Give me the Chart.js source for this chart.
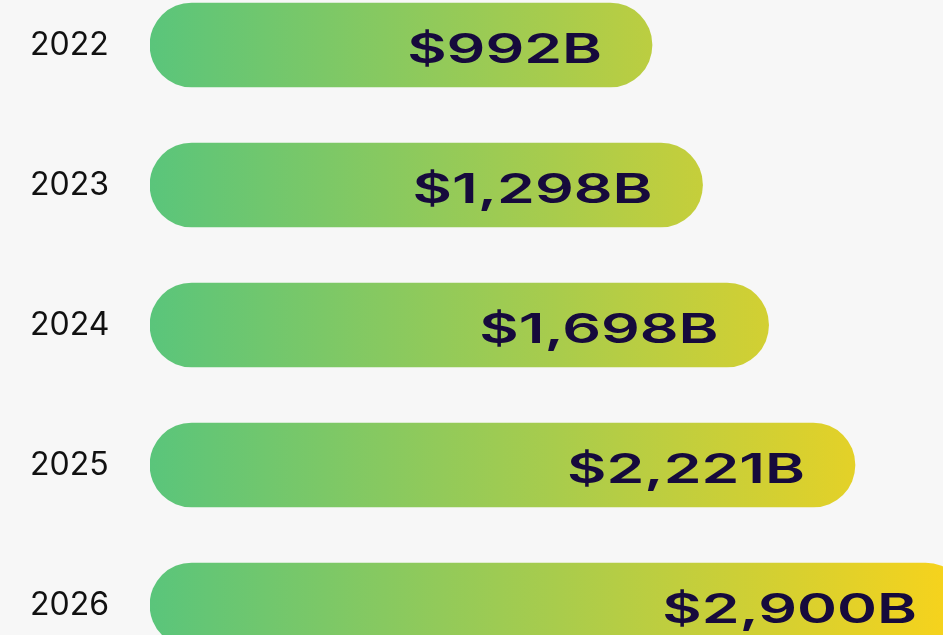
<!DOCTYPE html>
<html>
<head>
<meta charset="utf-8">
<script src="https://cdn.jsdelivr.net/npm/chart.js@4.4.1/dist/chart.umd.min.js"></script>
<style>
	html, body {
		margin: 0;
		padding: 0;
		background: #f7f7f7;
		overflow: hidden;
		width: 943px;
		height: 635px;
	}
	#wrap {
		position: absolute;
		left: 0;
		top: -25px;
		width: 943px;
		height: 700px;
	}
</style>
</head>
<body>
<div id="wrap"><canvas id="marketChart" width="943" height="700"></canvas></div>
<script>
// Market size per year, in billions of dollars
const years = ['2022', '2023', '2024', '2025', '2026'];
const marketSize = [992, 1298, 1698, 2221, 2900];

// Value axis range (the bars start at the axis minimum)
const xMin = -2048;
const xMax = 2754;

const green = '#5ac57b';
const lime = '#a9cc4c';
const yellow = '#fad31a';
const labelColor = '#160a3c';

function barGradient(context) {
	const chart = context.chart;
	const area = chart.chartArea;
	if(!area) {
		return green;
	}
	const xScale = chart.scales.x;
	const start = xScale.getPixelForValue(xMin);
	const end = xScale.getPixelForValue(Math.max(...marketSize));
	const gradient = chart.ctx.createLinearGradient(start, 0, end, 0);
	gradient.addColorStop(0, green);
	gradient.addColorStop(0.5, lime);
	gradient.addColorStop(1, yellow);
	return gradient;
}

// Writes "$1,298B" style labels inside the right end of each bar
const valueLabels = {
	id: 'valueLabels',
	afterDatasetsDraw(chart) {
		const ctx = chart.ctx;
		const meta = chart.getDatasetMeta(0);
		const stretch = 1.48;
		ctx.save();
		ctx.fillStyle = labelColor;
		ctx.font = '600 41px Inter';
		ctx.textAlign = 'right';
		ctx.textBaseline = 'alphabetic';
		meta.data.forEach(function(bar, i) {
			const text = '$' + marketSize[i].toLocaleString('en-US') + 'B';
			ctx.save();
			ctx.translate(bar.x - 50, bar.y + 18);
			ctx.scale(stretch, 1);
			ctx.fillText(text, 0, 0);
			ctx.restore();
		});
		ctx.restore();
	}
};

const config = {
	type: 'bar',
	data: {
		labels: years,
		datasets: [
			{
				data: marketSize,
				base: xMin,
				backgroundColor: barGradient,
				borderRadius: 42,
				borderSkipped: false,
				barThickness: 84,
			}
		],
	},
	options: {
		indexAxis: 'y',
		responsive: false,
		devicePixelRatio: 1,
		animation: false,
		layout: {
			padding: { left: 30, top: 0, right: 0, bottom: 0 },
		},
		plugins: {
			legend: { display: false },
			tooltip: { enabled: false },
		},
		scales: {
			x: {
				display: false,
				min: xMin,
				max: xMax,
			},
			y: {
				grid: { display: false },
				border: { display: false },
				ticks: {
					color: '#111111',
					padding: 0,
					crossAlign: 'far',
					font: {
						family: 'Inter',
						size: 32,
						weight: 400,
					},
				},
				afterFit(scale) {
					scale.width = 120;
					scale.paddingTop = 0;
					scale.paddingBottom = 0;
				},
			},
		},
	},
	plugins: [valueLabels],
};

const marketChart = new Chart(document.getElementById('marketChart'), config);
</script>
</body>
</html>
